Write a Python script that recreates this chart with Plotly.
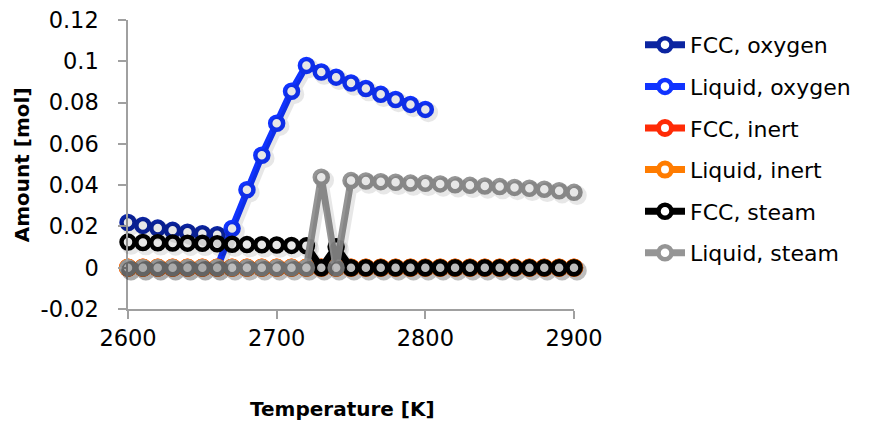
import plotly.graph_objects as go

temperature = [2600, 2610, 2620, 2630, 2640, 2650, 2660, 2670, 2680, 2690, 2700,
               2710, 2720, 2730, 2740, 2750, 2760, 2770, 2780, 2790, 2800,
               2810, 2820, 2830, 2840, 2850, 2860, 2870, 2880, 2890, 2900]

fcc_oxygen = [0.0219, 0.0205, 0.0192, 0.0181, 0.0172, 0.0165, 0.0160] + [None] * 24
liquid_oxygen = [0, 0, 0, 0, 0, 0, 0, 0.0190, 0.0378, 0.0545, 0.0700,
                 0.0855, 0.0980, 0.0948, 0.0923, 0.0895, 0.0868, 0.0840, 0.0815, 0.0791, 0.0767] + [None] * 10
fcc_inert = [0] * 31
liquid_inert = [0] * 31
fcc_steam = [0.0124, 0.0122, 0.0121, 0.0120, 0.0119, 0.0118, 0.0116, 0.0114, 0.0112, 0.0111,
             0.0110, 0.0108, 0.0106, 0, 0.0102] + [0] * 16
liquid_steam = [0] * 13 + [0.0438, 0, 0.0422, 0.0420, 0.0417, 0.0414, 0.0410, 0.0409, 0.0406,
                           0.0402, 0.0399, 0.0396, 0.0393, 0.0389, 0.0385, 0.0380, 0.0373, 0.0365]

series_names = ["FCC, oxygen", "Liquid, oxygen", "FCC, inert", "Liquid, inert", "FCC, steam", "Liquid, steam"]
series_values = [fcc_oxygen, liquid_oxygen, fcc_inert, liquid_inert, fcc_steam, liquid_steam]
series_colors = ["#0B24A0", "#1033FF", "#FF2B06", "#FF7C00", "#000000", "#959595"]
marker_ring = [4.5, 4.5, 5.5, 5.5, 4.5, 4.5]

y_tickvals = [-0.02, 0, 0.02, 0.04, 0.06, 0.08, 0.1, 0.12]
y_ticktext = ["-0.02", "0", "0.02", "0.04", "0.06", "0.08", "0.1", "0.12"]
x_tickvals = [2600, 2700, 2800, 2900]

x_title = "Temperature [K]"
y_title = "Amount [mol]"

FONT = "DejaVu Sans"
fig = go.Figure()

# soft drop shadows (drawn on slightly offset twin axes)
for name, vals in zip(series_names, series_values):
    fig.add_trace(go.Scatter(
        x=temperature, y=vals, mode="lines+markers", name=name,
        xaxis="x2", yaxis="y2", showlegend=False, hoverinfo="skip",
        opacity=0.09, cliponaxis=False,
        line=dict(color="#000000", width=8),
        marker=dict(symbol="circle", size=15.5, color="#000000",
                    line=dict(color="#000000", width=4)),
    ))

for name, vals, col, ring in zip(series_names, series_values, series_colors, marker_ring):
    fig.add_trace(go.Scatter(
        x=temperature, y=vals, mode="lines+markers", name=name,
        legendgroup=name, cliponaxis=False,
        line=dict(color=col, width=7),
        marker=dict(symbol="circle", size=13, color="white",
                    line=dict(color=col, width=ring)),
    ))

W_in, H_in = 446, 289.5
W_tot, H_tot = W_in + 3, H_in + 3
sx = 3 / W_tot
sy = 3 / H_tot
L, T = 128, 19.5
W, H = 870, 423

fig.update_layout(
    template="none",
    width=W, height=H,
    margin=dict(l=L, r=W - L - W_tot, t=T, b=H - T - H_tot, pad=0, autoexpand=False),
    paper_bgcolor="white", plot_bgcolor="rgba(0,0,0,0)",
    font=dict(family=FONT, size=21, color="#000000"),
    showlegend=True,
    legend=dict(xref="container", yref="container", x=640 / W, y=1 - 24 / H,
                xanchor="left", yanchor="top", maxheight=400,
                font=dict(family=FONT, size=22, color="#000000"),
                traceorder="grouped", tracegroupgap=10, borderwidth=0,
                bgcolor="rgba(0,0,0,0)", itemwidth=40),
    xaxis=dict(domain=[0, 1 - sx], range=[2600, 2900], tickvals=x_tickvals,
               automargin=False,
               showgrid=False, zeroline=False, showline=True, linecolor="#A0A0A0",
               linewidth=1.5, ticks="outside", tickcolor="#A0A0A0", ticklen=8, tickwidth=1.5,
               tickfont=dict(family=FONT, size=22.5, color="#000000"),
               anchor="y"),
    yaxis=dict(domain=[sy, 1], range=[-0.02, 0.12], tickvals=y_tickvals, ticktext=y_ticktext,
               automargin=False,
               showgrid=False, zeroline=False, showline=True, linecolor="#A0A0A0",
               linewidth=1.5, ticks="outside", tickcolor="#A0A0A0", ticklen=8, tickwidth=1.5,
               ticklabelstandoff=15,
               tickfont=dict(family=FONT, size=22.5, color="#000000"),
               anchor="x"),
    xaxis2=dict(domain=[sx, 1], range=[2600, 2900], visible=False, anchor="y2", automargin=False),
    yaxis2=dict(domain=[0, 1 - sy], range=[-0.02, 0.12], visible=False, anchor="x2", automargin=False),
    annotations=[
        dict(text="<b>" + x_title + "</b>", xref="paper", yref="paper",
             x=(342 - L) / W_tot, y=-(409 - (T + H_tot)) / H_tot,
             xanchor="center", yanchor="middle", showarrow=False,
             font=dict(family=FONT, size=20, color="#000000")),
        dict(text="<b>" + y_title + "</b>", xref="paper", yref="paper",
             x=(22 - L) / W_tot, y=((T + H_tot) - 165) / H_tot, textangle=-90,
             xanchor="center", yanchor="middle", showarrow=False,
             font=dict(family=FONT, size=20, color="#000000")),
    ],
)

fig.write_html("out.html", config={"displayModeBar": False},
               post_script="document.body.style.margin='0';document.body.style.overflow='hidden';")
